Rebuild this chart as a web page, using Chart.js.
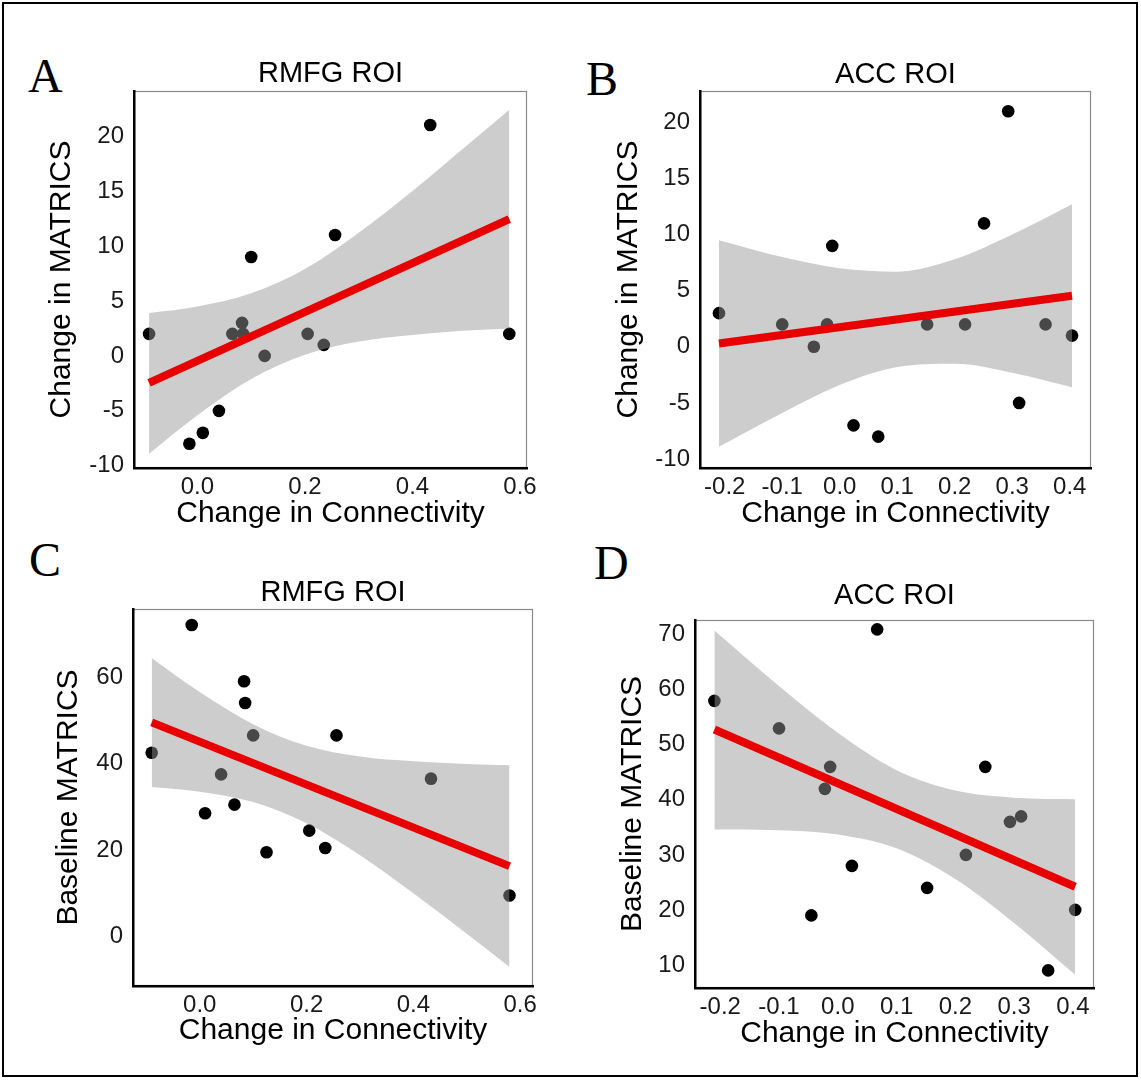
<!DOCTYPE html>
<html>
<head>
<meta charset="utf-8">
<script src="https://cdn.jsdelivr.net/npm/chart.js@4.4.1/dist/chart.umd.min.js"></script>
<style>
html,body{margin:0;padding:0;background:#fff;}
body{width:1141px;height:1080px;position:relative;overflow:hidden;font-family:"Liberation Sans",Arial,sans-serif;}
#frame{position:absolute;left:2px;top:2px;width:1136px;height:1075px;border:2px solid #000;box-sizing:border-box;}
.letter{position:absolute;font-family:"Liberation Serif","Times New Roman",serif;font-size:48px;line-height:1;color:#000;}
canvas{position:absolute;}
</style>
</head>
<body>
<div id="frame"></div>
<div class="letter" style="left:28px;top:52px">A</div>
<div class="letter" style="left:586px;top:55px">B</div>
<div class="letter" style="left:29px;top:536px">C</div>
<div class="letter" style="left:594px;top:539px">D</div>
<script>
// ---------- data ----------
const rmfgConnectivity   = [-0.09, -0.015, 0.01, 0.04, 0.065, 0.083, 0.085, 0.10, 0.125, 0.205, 0.235, 0.256, 0.433, 0.58];
const rmfgChangeMatrics  = [2, -8, -7, -5, 2, 3, 2, 9, 0, 2, 1, 11, 21, 2];
const rmfgBaseline       = [42.5, 72, 28.5, 37.5, 30.5, 59, 54, 46.5, 19.5, 24.5, 20.5, 46.5, 36.5, 9.5];

const accConnectivity    = [-0.21, -0.10, -0.045, -0.022, -0.013, 0.024, 0.067, 0.152, 0.218, 0.251, 0.293, 0.312, 0.358, 0.404];
const accChangeMatrics   = [3, 2, 0, 2, 9, -7, -8, 2, 2, 11, 21, -5, 2, 1];
const accBaseline        = [58, 53, 19, 42, 46, 28, 71, 24, 30, 46, 36, 37, 9, 20];

// regression lines (end points) and confidence bands
const fitAx = [-0.09, 0.58];  const fitAy = [-2.45, 12.45];
const fitBx = [-0.21, 0.404]; const fitBy = [0.3, 4.55];
const fitCx = [-0.09, 0.58];  const fitCy = [49.5, 16.3];
const fitDx = [-0.21, 0.404]; const fitDy = [52.8, 24.2];

const bandAx  = [-0.09, 0.0, 0.1, 0.2, 0.3, 0.4, 0.5, 0.58];
const bandAhi = [3.9, 4.5, 5.7, 7.9, 11.2, 15.0, 19.1, 22.4];
const bandAlo = [-8.9, -5.4, -2.1, 0.1, 1.3, 1.9, 2.3, 2.5];

const bandBx  = [-0.21, -0.1, 0.0, 0.1, 0.2, 0.3, 0.404];
const bandBhi = [9.5, 8.0, 7.0, 6.7, 7.8, 10.0, 12.7];
const bandBlo = [-8.9, -5.9, -3.4, -1.8, -1.5, -2.3, -3.6];

const bandCx  = [-0.09, 0.0, 0.1, 0.2, 0.3, 0.4, 0.5, 0.58];
const bandChi = [64.4, 56.5, 49.1, 44.1, 41.6, 40.5, 39.9, 39.6];
const bandClo = [34.6, 33.5, 31.1, 26.2, 18.8, 10.0, 0.7, -7.0];

const bandDx  = [-0.21, -0.1, 0.0, 0.1, 0.2, 0.3, 0.404];
const bandDhi = [70.8, 60.7, 52.2, 45.4, 41.7, 40.4, 40.1];
const bandDlo = [34.6, 34.5, 33.7, 31.2, 25.6, 17.6, 8.2];

// tick labels
const xTicksRmfg   = [0.0, 0.2, 0.4, 0.6];
const xTicksAcc    = [-0.2, -0.1, 0.0, 0.1, 0.2, 0.3, 0.4];
const yTicksA      = [-10, -5, 0, 5, 10, 15, 20];
const yTicksB      = [-10, -5, 0, 5, 10, 15, 20];
const yTicksC      = [0, 20, 40, 60];
const yTicksD      = [10, 20, 30, 40, 50, 60, 70];

// ---------- layout / style ----------
const FONT = '"Liberation Sans", Arial, sans-serif';
const zip = (xs, ys) => xs.map((v, i) => ({x: v, y: ys[i]}));

const panels = [
  {box:[134, 91, 527, 468], xr:[-0.118, 0.613], yr:[-10.2, 24.1], xt:xTicksRmfg, yt:yTicksA,
   title:'RMFG ROI', titleY:74, yTitle:'Change in MATRICS', xTitleY:514, yTitleX:62,
   x:rmfgConnectivity, y:rmfgChangeMatrics, fx:fitAx, fy:fitAy, bx:bandAx, lo:bandAlo, hi:bandAhi},
  {box:[700, 91, 1091, 468], xr:[-0.243, 0.437], yr:[-10.8, 22.8], xt:xTicksAcc, yt:yTicksB,
   title:'ACC ROI', titleY:75, yTitle:'Change in MATRICS', xTitleY:514, yTitleX:629,
   x:accConnectivity, y:accChangeMatrics, fx:fitBx, fy:fitBy, bx:bandBx, lo:bandBlo, hi:bandBhi},
  {box:[133, 609, 533, 986], xr:[-0.125, 0.624], yr:[-11.4, 75.7], xt:xTicksRmfg, yt:yTicksC,
   title:'RMFG ROI', titleY:593, yTitle:'Baseline MATRICS', xTitleY:1031, yTitleX:69,
   x:rmfgConnectivity, y:rmfgBaseline, fx:fitCx, fy:fitCy, bx:bandCx, lo:bandClo, hi:bandChi},
  {box:[695, 620, 1094, 988], xr:[-0.243, 0.436], yr:[5.8, 72.7], xt:xTicksAcc, yt:yTicksD,
   title:'ACC ROI', titleY:596, yTitle:'Baseline MATRICS', xTitleY:1034, yTitleX:633,
   x:accConnectivity, y:accBaseline, fx:fitDx, fy:fitDy, bx:bandDx, lo:bandDlo, hi:bandDhi}
];

const panelDeco = {
  id: 'panelDeco',
  beforeDraw(chart) {
    const {ctx, chartArea: a} = chart;
    ctx.save();
    ctx.strokeStyle = '#8a8a8a';
    ctx.lineWidth = 1.2;
    ctx.strokeRect(a.left + 0.5, a.top + 0.5, a.right - a.left - 1, a.bottom - a.top - 1);
    ctx.restore();
  },
  afterDraw(chart, args, opts) {
    const {ctx, chartArea: a} = chart;
    ctx.save();
    ctx.font = '29px ' + FONT;
    ctx.fillStyle = '#000';
    ctx.textAlign = 'center';
    ctx.textBaseline = 'middle';
    ctx.fillText(opts.text, (a.left + a.right) / 2, opts.y);
    ctx.restore();
  }
};

function buildPanel(p) {
  const [L, T, R, B] = p.box;
  const YW = 125, PT = 50, PR = 30, XH = 70;
  const CL = L - YW, CT = T - PT;
  const W = YW + (R - L) + PR, H = PT + (B - T) + XH;
  const cv = document.createElement('canvas');
  cv.width = W; cv.height = H;
  cv.style.left = CL + 'px'; cv.style.top = CT + 'px';
  cv.style.width = W + 'px'; cv.style.height = H + 'px';
  document.body.appendChild(cv);

  const xPadBottom = (B + XH) - 18 - p.xTitleY;
  const yPadTop = p.yTitleX - CL - 18;

  new Chart(cv, {
    type: 'scatter',
    data: {
      datasets: [
        {type:'line', data: zip(p.fx, p.fy), borderColor:'#e80000', borderWidth:8, borderCapStyle:'butt',
         pointRadius:0, fill:false, tension:0, order:0},
        {type:'line', data: zip(p.bx, p.lo), borderColor:'rgba(0,0,0,0)', borderWidth:0,
         pointRadius:0, fill:false, cubicInterpolationMode:'monotone', order:1},
        {type:'line', data: zip(p.bx, p.hi), borderColor:'rgba(0,0,0,0)', borderWidth:0,
         pointRadius:0, fill:'-1', backgroundColor:'rgba(150,150,150,0.48)', cubicInterpolationMode:'monotone', order:1},
        {type:'scatter', data: zip(p.x, p.y), pointRadius:6.3, pointHoverRadius:6.3,
         backgroundColor:'#000', borderWidth:0, order:3}
      ]
    },
    options: {
      responsive:false, animation:false, devicePixelRatio:1,
      layout:{padding:{left:0, top:PT, right:PR, bottom:0}},
      plugins:{legend:{display:false}, tooltip:{enabled:false}, title:{display:false},
               panelDeco:{text:p.title, y:p.titleY - CT}},
      scales:{
        x:{type:'linear', position:'bottom', min:p.xr[0], max:p.xr[1],
           afterBuildTicks: s => { s.ticks = p.xt.map(v => ({value:v})); },
           afterFit: s => { s.height = XH; },
           grid:{display:false, drawTicks:false},
           border:{display:true, color:'#000', width:2.5},
           ticks:{padding:5, color:'#1a1a1a', autoSkip:false, maxRotation:0, minRotation:0,
                  font:{family:FONT, size:24}, callback: v => Number(v).toFixed(1)},
           title:{display:true, text:'Change in Connectivity', color:'#000',
                  font:{family:FONT, size:30}, padding:{top:0, bottom:xPadBottom}}},
        y:{type:'linear', position:'left', min:p.yr[0], max:p.yr[1],
           afterBuildTicks: s => { s.ticks = p.yt.map(v => ({value:v})); },
           afterFit: s => { s.width = YW; },
           grid:{display:false, drawTicks:false},
           border:{display:true, color:'#000', width:2.5},
           ticks:{padding:10, color:'#1a1a1a', autoSkip:false,
                  font:{family:FONT, size:24}, callback: v => String(v)},
           title:{display:true, text:p.yTitle, color:'#000',
                  font:{family:FONT, size:30}, padding:{top:yPadTop, bottom:0}}}
      }
    },
    plugins:[panelDeco]
  });
}

panels.forEach(buildPanel);
</script>
</body>
</html>
